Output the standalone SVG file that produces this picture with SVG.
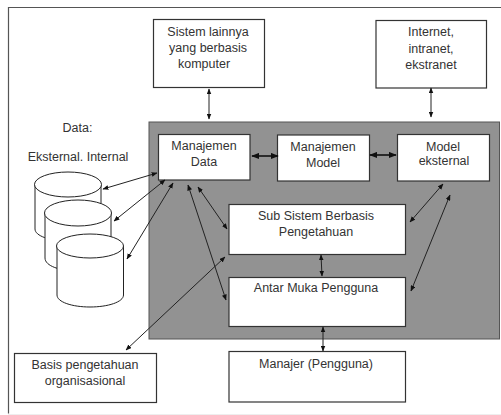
<svg xmlns="http://www.w3.org/2000/svg" width="501" height="415" viewBox="0 0 501 415">
<style>
.b{fill:#fff;stroke:#333;stroke-width:1.2}
.c{fill:#fff;stroke:#222;stroke-width:1}
text{font-family:"Liberation Sans",Arial,sans-serif;font-size:12.5px;fill:#333;text-anchor:middle}
.l{fill:none;stroke:#222;stroke-width:1;marker-start:url(#a);marker-end:url(#a)}
.t{fill:none;stroke:#111;stroke-width:1.6;marker-start:url(#a2);marker-end:url(#a2)}
</style>
<defs>
<marker id="a" viewBox="0 0 10 8" refX="9" refY="4" markerWidth="6" markerHeight="5" markerUnits="userSpaceOnUse" orient="auto-start-reverse"><path d="M0 0L10 4L0 8Z" fill="#111"/></marker>
<marker id="a2" viewBox="0 0 10 8" refX="9" refY="4" markerWidth="8" markerHeight="7" markerUnits="userSpaceOnUse" orient="auto-start-reverse"><path d="M0 0L10 4L0 8Z" fill="#111"/></marker>
</defs>
<rect width="501" height="415" fill="#fff"/>
<path d="M8.5 413.500V7.500H501" fill="none" stroke="#555" stroke-width="1.200"/>
<path d="M8 414.500H501" fill="none" stroke="#eee" stroke-width="1"/>
<g id="gray-panel"><rect x="149" y="122" width="350.500" height="217" fill="#929292" stroke="#555" stroke-width="1"/></g>
<g id="node-sistem"><rect class="b" x="153.500" y="19.500" width="111" height="68"/><text x="208" y="36">Sistem lainnya</text><text x="208" y="52">yang berbasis</text><text x="204" y="68">komputer</text></g>
<g id="node-internet"><rect class="b" x="376" y="20.500" width="110.500" height="67.500"/><text x="431" y="36">Internet,</text><text x="431" y="53">intranet,</text><text x="431" y="69">ekstranet</text></g>
<g id="node-data-label"><text x="77.500" y="132">Data:</text><text x="78" y="161">Eksternal. Internal</text></g>
<g id="node-cyl1"><path class="c" d="M35 184V229C35 236 50 241 68 241S101 236 101 229V184"/><ellipse class="c" cx="68" cy="184.500" rx="33.500" ry="12.500"/></g>
<g id="node-cyl2"><path class="c" d="M45 213V258C45 266 60 271 78 271S111 266 111 258V213"/><ellipse class="c" cx="78" cy="213" rx="33.500" ry="13"/></g>
<g id="node-cyl3"><path class="c" d="M57 246V295C57 302 72 307 90 307S123.500 302 123.500 295V246"/><ellipse class="c" cx="90" cy="246" rx="33.500" ry="12"/></g>
<g id="node-manajemen-data"><rect class="b" x="158.500" y="134.500" width="91.500" height="45.500"/><text x="204" y="150">Manajemen</text><text x="204" y="166">Data</text></g>
<g id="node-manajemen-model"><rect class="b" x="277.500" y="135" width="92" height="46"/><text x="323" y="151">Manajemen</text><text x="323" y="167">Model</text></g>
<g id="node-model-eksternal"><rect class="b" x="397.500" y="134.500" width="92" height="46.500"/><text x="443" y="151">Model</text><text x="444" y="165">eksternal</text></g>
<g id="node-subsistem"><rect class="b" x="229" y="204.500" width="176.500" height="50"/><text x="316" y="220">Sub Sistem Berbasis</text><text x="316" y="236">Pengetahuan</text></g>
<g id="node-antarmuka"><rect class="b" x="229" y="277.500" width="176.500" height="49"/><text x="316" y="292">Antar Muka Pengguna</text></g>
<g id="node-manajer"><rect class="b" x="229" y="351.500" width="176.500" height="50.500"/><text x="316" y="368">Manajer (Pengguna)</text></g>
<g id="node-basis"><rect class="b" x="14.500" y="353.500" width="142" height="49"/><text x="85" y="369">Basis pengetahuan</text><text x="85" y="385">organisasional</text></g>
<g id="connectors">
<path class="l" d="M209 89V119"/>
<path class="l" d="M431 88V117"/>
<path class="t" d="M252 156H278"/>
<path class="t" d="M370 155H396"/>
<path class="l" d="M103 189L157 173"/>
<path class="l" d="M114 221L165 180"/>
<path class="l" d="M127 259L173 183"/>
<path class="l" d="M188 185L226 300"/>
<path class="l" d="M198 187L227 229"/>
<path class="l" d="M225 257L126 350"/>
<path class="l" d="M443 184L410 222"/>
<path class="l" d="M450 195L411 291"/>
<path class="l" d="M321 255L322 276"/>
<path class="l" d="M323 327V351"/>
</g>
</svg>
